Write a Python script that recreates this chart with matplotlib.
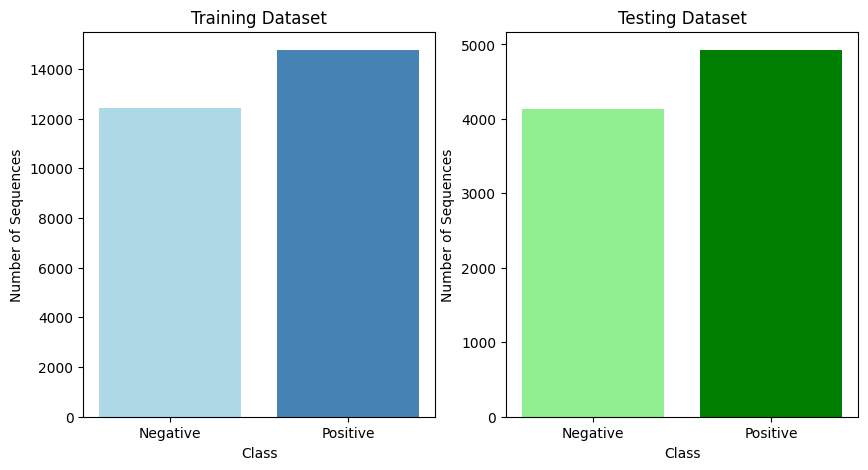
import matplotlib
matplotlib.use("Agg")
import matplotlib.pyplot as plt

# Class counts per dataset
classes = ['Negative', 'Positive']
train_counts = [12410, 14760]
test_counts = [4134, 4924]

train_colors = ['lightblue', 'steelblue']
test_colors = ['lightgreen', 'green']

fig, axes = plt.subplots(1, 2, figsize=(10, 5))

# Training dataset distribution
axes[0].bar(classes, train_counts, color=train_colors)
axes[0].set_title('Training Dataset')
axes[0].set_xlabel('Class')
axes[0].set_ylabel('Number of Sequences')

# Testing dataset distribution
axes[1].bar(classes, test_counts, color=test_colors)
axes[1].set_title('Testing Dataset')
axes[1].set_xlabel('Class')
axes[1].set_ylabel('Number of Sequences')

plt.savefig('out.png', bbox_inches='tight')
